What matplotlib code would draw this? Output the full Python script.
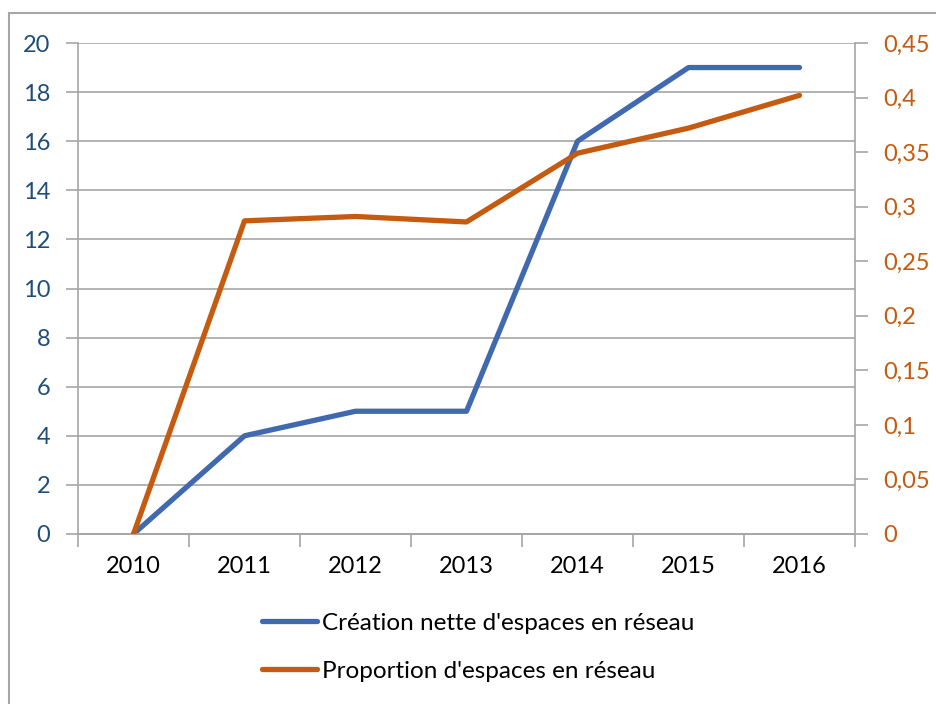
import numpy as np
import matplotlib.pyplot as plt
from matplotlib.patches import Rectangle
from matplotlib.ticker import FixedLocator

years = ['2010', '2011', '2012', '2013', '2014', '2015', '2016']
creation = [0, 4, 5, 5, 16, 19, 19]
proportion = [0, 0.287, 0.291, 0.286, 0.349, 0.372, 0.402]
right_ticks = [0, 0.05, 0.1, 0.15, 0.2, 0.25, 0.3, 0.35, 0.4, 0.45]

blue = '#4169B0'
orange = '#C55A11'
grey = '#A6A6A6'

plt.rcParams['font.family'] = ['Lato', 'DejaVu Sans']
fs = 17
lfs = 17.5

fig = plt.figure(figsize=(9.36, 7.04), dpi=100)
ax = fig.add_axes([78 / 936, 1 - 534 / 704, (855 - 78) / 936, (534 - 43) / 704])
ax2 = ax.twinx()

# chart frame (partly outside the picture)
fig.patches.append(Rectangle((9 / 936, -0.2), 1.5, 0.2 + (1 - 13 / 704),
                             transform=fig.transFigure, fill=False,
                             edgecolor=grey, linewidth=1.5))

x = np.arange(len(years))
l1, = ax.plot(x, creation, color=blue, lw=3.8, solid_capstyle='round', zorder=3)
l2, = ax2.plot(x, proportion, color=orange, lw=3.8, solid_capstyle='round', zorder=3)

ax.set_xlim(-0.5, len(years) - 0.5)
ax.set_ylim(0, 20)
ax.set_yticks(range(0, 21, 2))
ax2.set_ylim(0, 0.45)
ax2.set_yticks(right_ticks)
ax2.set_yticklabels([('%g' % v).replace('.', ',') for v in right_ticks])

ax.xaxis.set_major_locator(FixedLocator(np.arange(-0.5, len(years), 1)))
ax.xaxis.set_major_formatter(plt.NullFormatter())
ax.set_xticks(x, minor=True)
ax.set_xticklabels(years, minor=True)
ax.tick_params(axis='x', which='major', length=9, width=1.2, color=grey)
ax.tick_params(axis='x', which='minor', length=0, pad=16, labelsize=fs, labelcolor='black')

ax.tick_params(axis='y', length=9, width=1.2, color=grey, pad=11, labelsize=fs, labelcolor='#1F4E79')
ax2.tick_params(axis='y', length=9, width=1.2, color=grey, pad=11, labelsize=fs, labelcolor=orange)

ax.grid(axis='y', color=grey, lw=1.2)
ax.set_axisbelow(True)

for a in (ax, ax2):
    a.spines['top'].set_visible(False)
    for s in ('left', 'right', 'bottom'):
        a.spines[s].set_color(grey)
        a.spines[s].set_linewidth(1.2)
ax2.spines['left'].set_visible(False)
ax.spines['right'].set_visible(False)

fig.legend([l1, l2], ["Création nette d'espaces en réseau", "Proportion d'espaces en réseau"],
           loc='upper left', bbox_to_anchor=(240 / 936, 1 - 591 / 704), frameon=False,
           fontsize=lfs, handlelength=2.26, handletextpad=0.2, labelspacing=1.1)

fig.savefig('out.png', dpi=100)
